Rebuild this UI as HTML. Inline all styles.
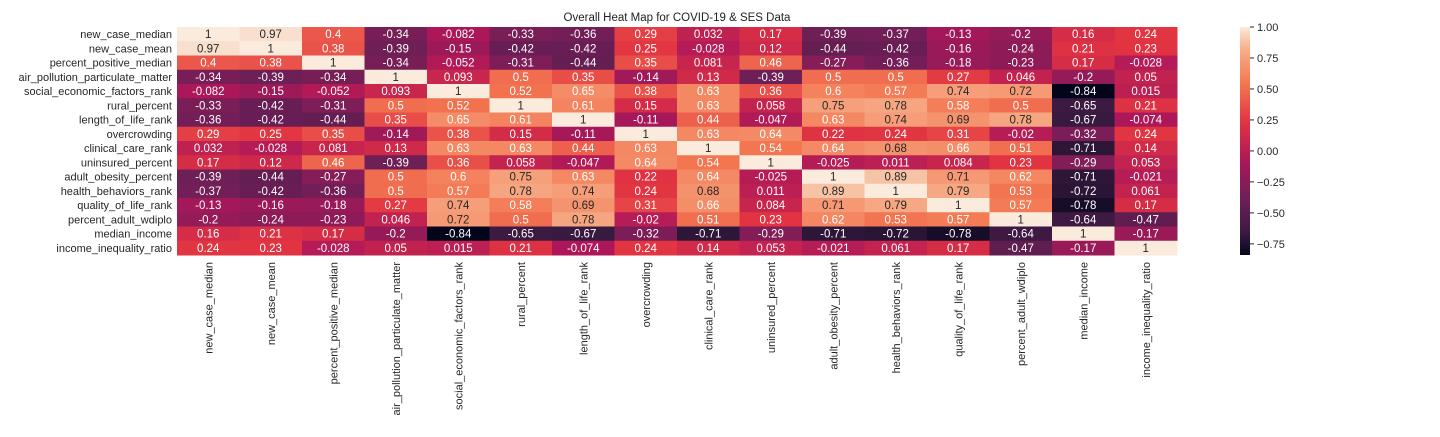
<!DOCTYPE html>
<html><head><meta charset="utf-8"><style>
body{margin:0;background:#fff;}
svg text{font-family:"Liberation Sans",Arial,sans-serif;}
</style></head><body>
<svg id="chart" width="1440" height="432" xmlns="http://www.w3.org/2000/svg">
<text x="677" y="21" text-anchor="middle" font-size="11.5" fill="#222">Overall Heat Map for COVID-19 &amp; SES Data</text>
<defs><linearGradient id="cg" x1="0" y1="1" x2="0" y2="0"></linearGradient></defs>
<g id="cells"></g><g id="ylab"></g><g id="xlab"></g><g id="cbar"></g>
</svg>
<script>
const labels=["new_case_median","new_case_mean","percent_positive_median","air_pollution_particulate_matter","social_economic_factors_rank","rural_percent","length_of_life_rank","overcrowding","clinical_care_rank","uninsured_percent","adult_obesity_percent","health_behaviors_rank","quality_of_life_rank","percent_adult_wdiplo","median_income","income_inequality_ratio"];
const values=[
[1,0.97,0.4,-0.34,-0.082,-0.33,-0.36,0.29,0.032,0.17,-0.39,-0.37,-0.13,-0.2,0.16,0.24],
[0.97,1,0.38,-0.39,-0.15,-0.42,-0.42,0.25,-0.028,0.12,-0.44,-0.42,-0.16,-0.24,0.21,0.23],
[0.4,0.38,1,-0.34,-0.052,-0.31,-0.44,0.35,0.081,0.46,-0.27,-0.36,-0.18,-0.23,0.17,-0.028],
[-0.34,-0.39,-0.34,1,0.093,0.5,0.35,-0.14,0.13,-0.39,0.5,0.5,0.27,0.046,-0.2,0.05],
[-0.082,-0.15,-0.052,0.093,1,0.52,0.65,0.38,0.63,0.36,0.6,0.57,0.74,0.72,-0.84,0.015],
[-0.33,-0.42,-0.31,0.5,0.52,1,0.61,0.15,0.63,0.058,0.75,0.78,0.58,0.5,-0.65,0.21],
[-0.36,-0.42,-0.44,0.35,0.65,0.61,1,-0.11,0.44,-0.047,0.63,0.74,0.69,0.78,-0.67,-0.074],
[0.29,0.25,0.35,-0.14,0.38,0.15,-0.11,1,0.63,0.64,0.22,0.24,0.31,-0.02,-0.32,0.24],
[0.032,-0.028,0.081,0.13,0.63,0.63,0.44,0.63,1,0.54,0.64,0.68,0.66,0.51,-0.71,0.14],
[0.17,0.12,0.46,-0.39,0.36,0.058,-0.047,0.64,0.54,1,-0.025,0.011,0.084,0.23,-0.29,0.053],
[-0.39,-0.44,-0.27,0.5,0.6,0.75,0.63,0.22,0.64,-0.025,1,0.89,0.71,0.62,-0.71,-0.021],
[-0.37,-0.42,-0.36,0.5,0.57,0.78,0.74,0.24,0.68,0.011,0.89,1,0.79,0.53,-0.72,0.061],
[-0.13,-0.16,-0.18,0.27,0.74,0.58,0.69,0.31,0.66,0.084,0.71,0.79,1,0.57,-0.78,0.17],
[-0.2,-0.24,-0.23,0.046,0.72,0.5,0.78,-0.02,0.51,0.23,0.62,0.53,0.57,1,-0.64,-0.47],
[0.16,0.21,0.17,-0.2,-0.84,-0.65,-0.67,-0.32,-0.71,-0.29,-0.71,-0.72,-0.78,-0.64,1,-0.17],
[0.24,0.23,-0.028,0.05,0.015,0.21,-0.074,0.24,0.14,0.053,-0.021,0.061,0.17,-0.47,-0.17,1]];
const cbTicks=[1,0.75,0.5,0.25,0,-0.25,-0.5,-0.75];
const NS="http://www.w3.org/2000/svg";
const L=177,R=1177,T=27,B=255,vmax=1,vmin=Math.min(...values.flat());
const cw=(R-L)/labels.length,ch=(B-T)/labels.length;
const stops=[[0,[3,5,26]],[0.083,[53,25,62]],[0.25,[112,31,87]],[0.417,[173,23,89]],[0.583,[225,51,66]],[0.75,[243,118,81]],[0.917,[246,180,143]],[1,[250,235,221]]];
function cmap(t){t=Math.max(0,Math.min(1,t));for(let i=1;i<stops.length;i++){if(t<=stops[i][0]){const[a,ca]=stops[i-1],[b,cb]=stops[i];const f=(t-a)/(b-a);return ca.map((c,k)=>Math.round(c+(cb[k]-c)*f));}}return stops[stops.length-1][1];}
function norm(v){return (v-vmin)/(vmax-vmin);}
function fmt(v){return String(Number(v.toPrecision(2)));}
function lin(c){c/=255;return c<=0.03928?c/12.92:Math.pow((c+0.055)/1.055,2.4);}
function mk(tag,at,txt){const e=document.createElementNS(NS,tag);for(const k in at)e.setAttribute(k,at[k]);if(txt!==undefined)e.textContent=txt;return e;}
const cells=document.getElementById('cells');
values.forEach((row,i)=>row.forEach((v,j)=>{
 const c=cmap(norm(v));
 const r=mk('rect',{x:L+j*cw,y:T+i*ch,width:cw+0.5,height:ch+0.5,fill:`rgb(${c})`});
 
 
 cells.appendChild(r);
 const lum=0.2126*lin(c[0])+0.7152*lin(c[1])+0.0722*lin(c[2]);
 const t=mk('text',{x:L+(j+0.5)*cw,y:T+(i+0.5)*ch+4,'text-anchor':'middle','font-size':'11.5',fill:lum>0.408?'#262626':'#fff'},fmt(v));
 
 
 cells.appendChild(t);
}));
const yl=document.getElementById('ylab'),xl=document.getElementById('xlab');
labels.forEach((s,i)=>{
 const t=mk('text',{x:172,y:T+(i+0.5)*ch+4,'text-anchor':'end','font-size':'11',fill:'#262626'},s);
 
 
 yl.appendChild(t);
 const x=L+(i+0.5)*cw+4;
 const u=mk('text',{x:x,y:262,'text-anchor':'end','font-size':'11',fill:'#262626',transform:`rotate(-90 ${x} 262)`},s);
 
 
 xl.appendChild(u);
});
const g=document.getElementById('cg');
for(let k=0;k<=20;k++){const c=cmap(k/20);g.appendChild(mk('stop',{offset:k/20,'stop-color':`rgb(${c})`}));}
const cb=document.getElementById('cbar');
const bar=mk('rect',{x:1240,y:T,width:10,height:B-T,fill:'url(#cg)'});


cb.appendChild(bar);
cbTicks.forEach(v=>{
 const y=B-(B-T)*norm(v);
 cb.appendChild(mk('line',{x1:1250,x2:1254,y1:y,y2:y,stroke:'#262626','stroke-width':1}));
 const t=mk('text',{x:1257,y:y+4,'font-size':'11',fill:'#262626'},v.toFixed(2).replace('-','\u2212'));
 
 
 cb.appendChild(t);
});
</script>
</body></html>
